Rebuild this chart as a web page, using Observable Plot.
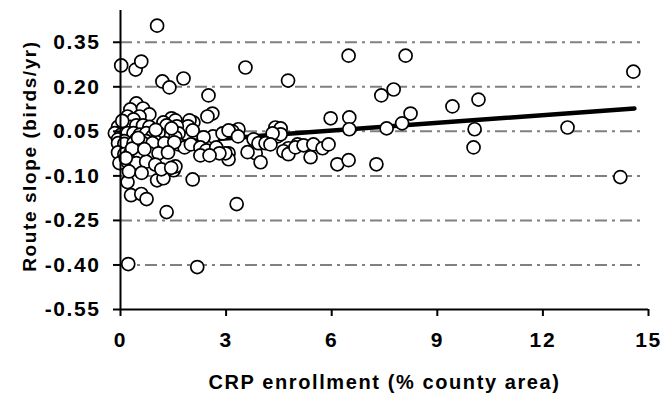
<!DOCTYPE html>
<html>
<head>
<meta charset="utf-8">
<script src="https://cdn.jsdelivr.net/npm/d3@7"></script>
<script src="https://cdn.jsdelivr.net/npm/@observablehq/plot@0.6"></script>
<style>
  html, body { margin: 0; padding: 0; background: #fff; }
  svg text { font-family: "Liberation Sans", Arial, sans-serif; font-weight: bold; letter-spacing: 1.6px; }
</style>
</head>
<body>
<div id="chart"></div>
<script>
// CRP enrollment (% county area)
const crp = [
  1.04, 0.02, 0.43, 0.59, 1.19, 1.39, 1.79, 3.55, 4.76, 6.48, 8.10, 14.57,
  2.50, 2.61, 2.47, 0.45, 1.45, 2.07, 3.35, 3.18, 4.40, 3.78, 3.84, 4.46,
  4.77, 5.03, 0.22, 2.18, 1.31, 3.30, 0.30, 0.59, 0.74, 0.20, 1.04, 1.22,
  1.51, 2.05, 3.07, 3.07, 3.98, 4.63, 4.77, 7.41, 7.76, 9.43, 10.17, 5.97,
  6.50, 6.50, 8.24, 8.00, 7.56, 10.06, 10.03, 4.55, 4.55, 4.97, 5.20, 5.48,
  5.74, 5.91, 5.40, 6.16, 6.48, 7.27, 12.70, 14.20, 4.32, 3.92, 4.12, 4.26,
  1.96, 1.92, 2.05, 1.56, 1.60, 1.65, 1.56, 2.63, 2.36, 2.90, 3.07, 3.34,
  1.65, 1.82, 2.00, 2.27, 2.44, 2.72, 2.98, 2.81, 2.27, 2.53, 1.56, 3.61,
  0.28, 0.64, 0.82, 0.54, 0.20, 0.37, 1.22, 1.31, 1.45,
  -0.07, 0.11, 0.28, 0.45, 0.64, 0.82,
  -0.16, 0.02, 0.20, 0.37, 0.55, 0.73, 0.91, 1.08,
  -0.07, 0.11, 0.45, 0.73, 0.99,
  -0.07, 0.11, 0.37, 0.64, 0.91, 1.25, 1.53,
  -0.07, 0.11, 0.28, 0.54, 0.82, 1.08, 1.35,
  -0.03, 0.20, 0.45, 0.73, 0.99, 1.16, 1.44,
  0.33, 0.50, 0.15, 0.68, 1.00, 0.24, 0.60, 0.05
];
// Route slope (birds/yr)
const slope = [
  0.406, 0.272, 0.258, 0.285, 0.218, 0.198, 0.228, 0.265, 0.221, 0.305, 0.305, 0.251,
  0.171, 0.110, 0.100, 0.144, 0.094, 0.080, 0.057, 0.050, 0.063, 0.023, -0.024, 0.033,
  -0.007, 0.006, -0.397, -0.407, -0.222, -0.195, -0.165, -0.161, -0.178, -0.121, -0.115, -0.108,
  -0.081, -0.112, -0.024, -0.044, -0.054, -0.017, -0.027, 0.171, 0.191, 0.134, 0.157, 0.094,
  0.097, 0.057, 0.110, 0.077, 0.060, 0.057, -0.004, 0.060, 0.040, -0.004, 0.003, 0.006,
  -0.007, 0.006, -0.037, -0.061, -0.047, -0.061, 0.063, -0.104, 0.043, 0.010, 0.010, 0.006,
  0.087, 0.067, 0.053, 0.087, 0.067, 0.043, 0.030, 0.033, 0.030, 0.043, 0.053, 0.033,
  0.006, -0.004, 0.006, -0.004, -0.014, -0.004, -0.024, -0.024, -0.031, -0.031, -0.068, -0.020,
  0.124, 0.127, 0.107, 0.100, 0.100, 0.090, 0.080, 0.070, 0.060,
  0.065, 0.060, 0.065, 0.070, 0.070, 0.065,
  0.044, 0.039, 0.044, 0.044, 0.039, 0.044, 0.033, 0.044,
  0.023, 0.017, 0.023, 0.017, 0.017,
  0.010, 0.008, 0.010, 0.010, 0.010, 0.010, 0.013,
  -0.021, -0.027, -0.024, -0.024, -0.024, -0.024, -0.021,
  -0.057, -0.052, -0.057, -0.052, -0.062, -0.078, -0.073,
  -0.008, 0.028, -0.040, -0.010, 0.055, -0.085, -0.090, 0.085
];
// fitted regression line end points
const fitX = [0, 14.6];
const fitY = [0.0004, 0.127];

const xTicks = [0, 3, 6, 9, 12, 15];
const yTicks = [0.35, 0.20, 0.05, -0.10, -0.25, -0.40, -0.55];
const gridTicks = [0.35, 0.20, 0.05, -0.10, -0.25, -0.40];

const points = crp.map((x, i) => ({x, y: slope[i]}));
const fit = fitX.map((x, i) => ({x, y: fitY[i]}));

const chart = Plot.plot({
  width: 662,
  height: 396,
  marginLeft: 120,
  marginRight: 14,
  marginTop: 10,
  marginBottom: 87,
  style: {background: "#fff", fontFamily: "Liberation Sans, Arial, sans-serif"},
  x: {domain: [0, 15]},
  y: {domain: [-0.55, 0.457]},
  marks: [
    Plot.ruleY(gridTicks, {x1: 0, x2: 14.86, stroke: "#808080", strokeWidth: 2, strokeDasharray: "12,5,3,5"}),
    Plot.line(fit, {x: "x", y: "y", stroke: "#000", strokeWidth: 4.5}),
    Plot.dot(points, {x: "x", y: "y", r: 6.5, fill: "#fff", stroke: "#000", strokeWidth: 1.7}),
    Plot.ruleX([0], {stroke: "#000", strokeWidth: 2}),
    Plot.ruleY([-0.55], {stroke: "#000", strokeWidth: 2}),
    Plot.axisX(xTicks, {tickSize: 7, tickPadding: 16, strokeWidth: 2, fontSize: 21, label: null, fill: "#000"}),
    Plot.axisY(yTicks, {tickSize: 7, tickPadding: 13, strokeWidth: 2, fontSize: 21, label: null, fill: "#000",
      tickFormat: d => d.toFixed(2)}),
    Plot.text(["CRP enrollment (% county area)"], {frameAnchor: "bottom", textAnchor: "middle", dy: 79, fontSize: 20, fill: "#000"}),
    Plot.text(["Route slope (birds/yr)"], {frameAnchor: "left", textAnchor: "middle", dx: -91, dy: -4, rotate: -90, fontSize: 19, fill: "#000"})
  ]
});
document.getElementById("chart").appendChild(chart);
</script>
</body>
</html>
